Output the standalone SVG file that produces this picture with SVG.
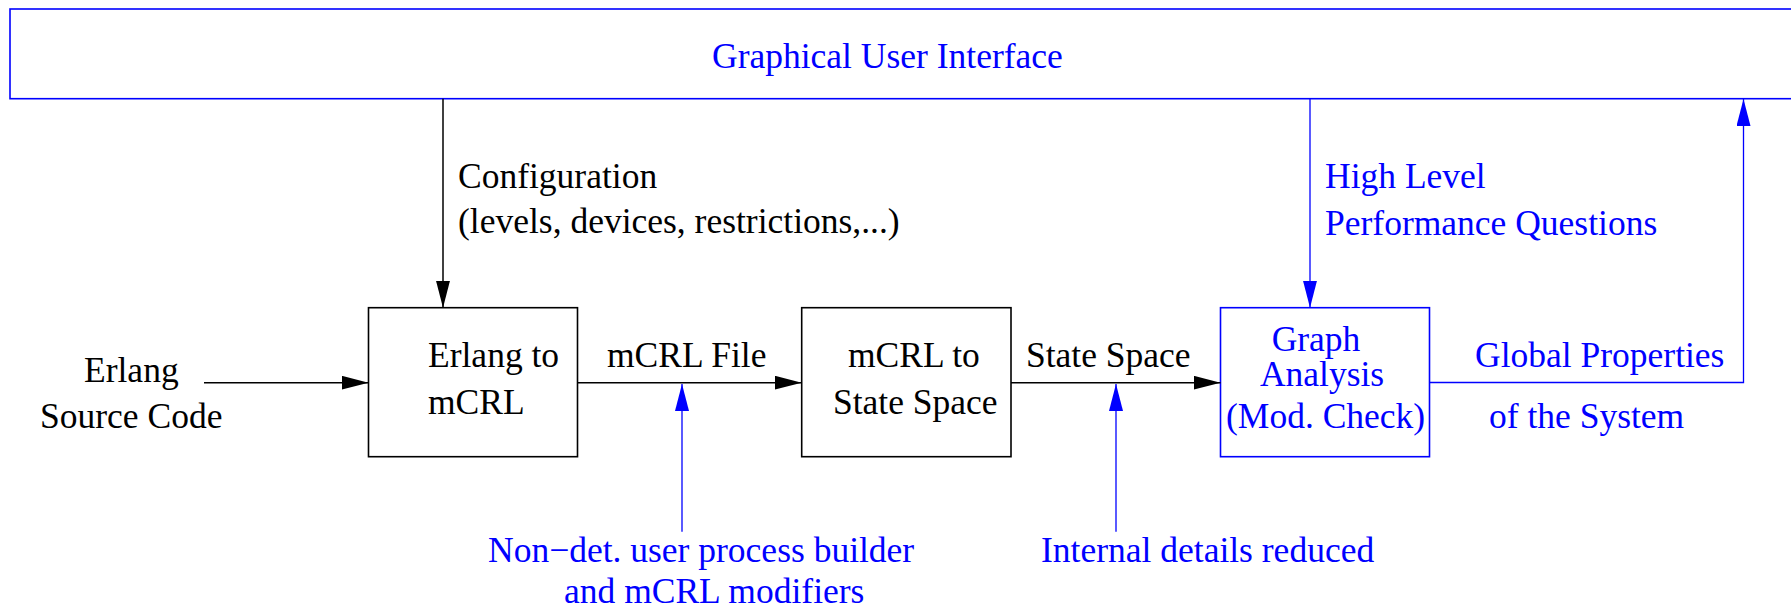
<svg xmlns="http://www.w3.org/2000/svg" width="1791" height="609" viewBox="0 0 1791 609">
  <style>
    text { font-family: "Liberation Serif", "Times New Roman", serif; font-size: 35.5px; }
    .k { fill: #000; }
    .b { fill: #0000ff; }
    .box-k { fill: none; stroke: #000; stroke-width: 1.6; }
    .box-b { fill: none; stroke: #0000ff; stroke-width: 1.6; }
    .ln-k { fill: none; stroke: #000; stroke-width: 1.5; }
    .ln-b { fill: none; stroke: #0000ff; stroke-width: 1.3; }
  </style>
  <defs>
    <marker id="arr-k" viewBox="0 0 27 14" refX="27" refY="7" markerWidth="27" markerHeight="14" markerUnits="userSpaceOnUse" orient="auto">
      <path d="M0,0 L27,7 L0,14 z" fill="#000"/>
    </marker>
    <marker id="arr-b" viewBox="0 0 27 14" refX="27" refY="7" markerWidth="27" markerHeight="14" markerUnits="userSpaceOnUse" orient="auto">
      <path d="M0,0 L27,7 L0,14 z" fill="#0000ff"/>
    </marker>
  </defs>

  <!-- top bar -->
  <g id="gui">
    <rect class="box-b" x="10" y="9" width="1800" height="89.7"/>
    <text class="b" x="712" y="68">Graphical User Interface</text>
  </g>

  <!-- pipeline stages -->
  <g id="source">
    <text class="k" x="84" y="382">Erlang</text>
    <text class="k" x="40" y="428">Source Code</text>
  </g>
  <g id="erlang-to-mcrl">
    <rect class="box-k" x="368.5" y="307.7" width="209" height="149"/>
    <text class="k" x="428" y="367">Erlang to</text>
    <text class="k" x="428" y="414">mCRL</text>
  </g>
  <g id="mcrl-to-statespace">
    <rect class="box-k" x="801.7" y="307.7" width="209.3" height="149"/>
    <text class="k" x="848" y="367">mCRL to</text>
    <text class="k" x="833" y="414">State Space</text>
  </g>
  <g id="graph-analysis">
    <rect class="box-b" x="1220.5" y="307.7" width="209" height="149"/>
    <text class="b" x="1316" y="351" text-anchor="middle">Graph</text>
    <text class="b" x="1322" y="386" text-anchor="middle">Analysis</text>
    <text class="b" x="1226" y="428">(Mod. Check)</text>
  </g>

  <!-- connectors -->
  <g id="connectors">
    <line class="ln-k" x1="204" y1="382.7" x2="368.5" y2="382.7" marker-end="url(#arr-k)"/>
    <line class="ln-k" x1="577.5" y1="382.7" x2="801.7" y2="382.7" marker-end="url(#arr-k)"/>
    <line class="ln-k" x1="1011" y1="382.7" x2="1220.5" y2="382.7" marker-end="url(#arr-k)"/>
    <line class="ln-k" x1="443" y1="98.7" x2="443" y2="307.7" marker-end="url(#arr-k)"/>
    <line class="ln-b" x1="1310" y1="98.7" x2="1310" y2="307.7" marker-end="url(#arr-b)"/>
    <polyline class="ln-b" points="1429.5,382.5 1743.5,382.5 1743.5,99" marker-end="url(#arr-b)"/>
    <line class="ln-b" x1="682" y1="531.7" x2="682" y2="384" marker-end="url(#arr-b)"/>
    <line class="ln-b" x1="1116" y1="531.7" x2="1116" y2="384" marker-end="url(#arr-b)"/>
  </g>

  <!-- connector labels -->
  <g id="labels">
    <text class="k" x="458" y="188">Configuration</text>
    <text class="k" x="458" y="233">(levels, devices, restrictions,...)</text>
    <text class="b" x="1325" y="188">High Level</text>
    <text class="b" x="1325" y="235">Performance Questions</text>
    <text class="k" x="607" y="367">mCRL File</text>
    <text class="k" x="1026" y="367">State Space</text>
    <text class="b" x="1475" y="367">Global Properties</text>
    <text class="b" x="1489" y="428">of the System</text>
    <text class="b" x="488" y="562">Non−det. user process builder</text>
    <text class="b" x="564" y="603">and mCRL modifiers</text>
    <text class="b" x="1041" y="562">Internal details reduced</text>
  </g>
</svg>
